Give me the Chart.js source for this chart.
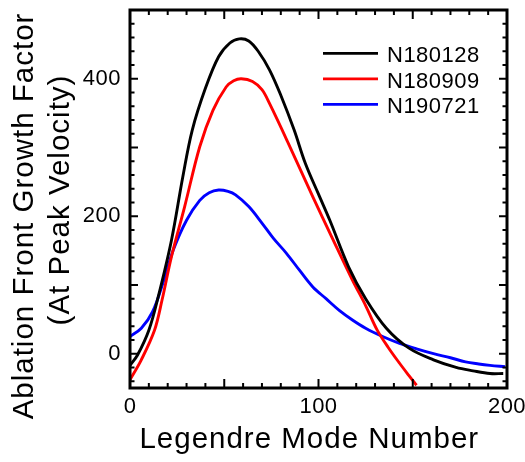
<!DOCTYPE html>
<html>
<head>
<meta charset="utf-8">
<script src="https://cdn.jsdelivr.net/npm/chart.js@4/dist/chart.umd.min.js"></script>
<style>
html,body{margin:0;padding:0;background:#ffffff;}
#wrap{width:525px;height:462px;}
canvas{display:block;}
</style>
</head>
<body>
<div id="wrap"><canvas id="c" width="525" height="462"></canvas></div>
<script>
// ---- data ----
const seriesNames = ['N180128', 'N180909', 'N190721'];
const seriesColors = ['#000000', '#ff0000', '#0000ff'];

const n180128X = [0, 4, 10, 15, 22, 28, 33, 40, 47, 53, 58, 63, 68, 74, 80, 87, 93, 100, 106, 116, 125, 136, 148, 161, 173, 182, 191, 198];
const n180128Y = [-17, -2, 34, 83, 165, 257, 325, 386, 432, 452, 458, 455, 440, 413, 376, 326, 277, 232, 194, 126, 80, 37, 8, -9, -20, -25, -29, -29];

const n180909X = [0, 6, 13, 17, 22, 29, 37, 44, 51, 55, 59, 65, 70, 74, 84, 97, 107, 118, 125, 131, 137, 143, 148, 152];
const n180909Y = [-38, -9, 34, 78, 141, 214, 301, 354, 388, 397, 400, 396, 384, 364, 306, 228, 170, 107, 70, 35, 9, -14, -32, -46];

const n190721X = [0, 6, 12, 18, 23, 30, 37, 42, 47, 52, 56, 63, 70, 76, 83, 90, 97, 104, 111, 118, 125, 134, 143, 152, 161, 170, 178, 185, 191, 199];
const n190721Y = [25, 37, 61, 107, 151, 194, 223, 234, 238, 236, 231, 214, 190, 168, 146, 121, 97, 80, 63, 49, 37, 25, 15, 7, 0, -6, -12, -15, -17, -19];

const xTickLabels = [0, 100, 200];
const yTickLabels = [0, 200, 400];
const xRange = [0, 200];
const yRange = [-50, 500];
const xMinorStep = 10, xMajorStep = 50;
const yMinorStep = 20, yMajorStep = 100;

const xTitleText = 'Legendre Mode Number';
const yTitleLines = ['Ablation Front Growth Factor', '(At Peak Velocity)'];

// ---- build ----
const FONT = '"Liberation Sans", Arial, Helvetica, sans-serif';
function pts(xs, ys) { return xs.map((x, i) => ({ x: x, y: ys[i] })); }
const seriesX = [n180128X, n180909X, n190721X];
const seriesY = [n180128Y, n180909Y, n190721Y];

const datasets = seriesNames.map((name, i) => ({
  label: name,
  data: pts(seriesX[i], seriesY[i]),
  borderColor: seriesColors[i],
  backgroundColor: seriesColors[i],
  borderWidth: 2.9,
  pointRadius: 0,
  fill: false,
  tension: 0.35
}));

const spacingPlugin = {
  id: 'spacing',
  beforeLayout(chart) { chart.ctx.letterSpacing = '1px'; },
  beforeDraw(chart) { chart.ctx.letterSpacing = '1px'; },
  afterDatasetsDraw(chart) { chart.ctx.letterSpacing = '0.5px'; }
};

const frameTicks = {
  id: 'frameTicks',
  afterDatasetsDraw(chart) {
    const { ctx, chartArea: a, scales: { x, y } } = chart;
    ctx.save();
    ctx.strokeStyle = '#000';
    ctx.lineWidth = 2;
    ctx.beginPath();
    for (let v = x.min; v <= x.max + 1e-9; v += xMinorStep) {
      const px = x.getPixelForValue(v);
      const len = (Math.abs(v % xMajorStep) < 1e-9) ? 9 : 5;
      ctx.moveTo(px, a.bottom); ctx.lineTo(px, a.bottom - len);
      ctx.moveTo(px, a.top); ctx.lineTo(px, a.top + len);
    }
    for (let v = Math.ceil(y.min / yMinorStep) * yMinorStep; v <= y.max + 1e-9; v += yMinorStep) {
      const py = y.getPixelForValue(v);
      const len = (Math.abs(v % yMajorStep) < 1e-9) ? 8 : 4.5;
      ctx.moveTo(a.left, py); ctx.lineTo(a.left + len, py);
      ctx.moveTo(a.right, py); ctx.lineTo(a.right - len, py);
    }
    ctx.stroke();
    ctx.lineWidth = 3;
    ctx.strokeRect(a.left, a.top, a.right - a.left, a.bottom - a.top);
    ctx.restore();
  }
};

const legendAndYTitle = {
  id: 'legendAndYTitle',
  afterDraw(chart) {
    const { ctx, chartArea: a } = chart;
    ctx.save();
    // legend
    ctx.font = '22px ' + FONT;
    ctx.letterSpacing = '0.5px';
    ctx.textAlign = 'left';
    ctx.textBaseline = 'alphabetic';
    chart.data.datasets.forEach((ds, i) => {
      const ly = a.top + 43.3 + i * 25.5;
      ctx.strokeStyle = ds.borderColor;
      ctx.lineWidth = 2.8;
      ctx.beginPath();
      ctx.moveTo(a.right - 184, ly);
      ctx.lineTo(a.right - 129, ly);
      ctx.stroke();
      ctx.fillStyle = '#000';
      ctx.fillText(ds.label, a.right - 120, ly + 8.9);
    });
    // y axis title (two rotated lines)
    ctx.font = '29.5px ' + FONT;
    ctx.letterSpacing = '1px';
    ctx.textAlign = 'center';
    ctx.fillStyle = '#000';
    const cy = (a.top + a.bottom) / 2;
    const lines = [{ t: yTitleLines[0], x: 33, y: cy + 17 }, { t: yTitleLines[1], x: 69, y: cy + 1 }];
    lines.forEach(l => {
      ctx.save();
      ctx.translate(l.x, l.y);
      ctx.rotate(-Math.PI / 2);
      ctx.fillText(l.t, 0, 0);
      ctx.restore();
    });
    ctx.restore();
  }
};

new Chart(document.getElementById('c'), {
  type: 'line',
  data: { datasets: datasets },
  plugins: [spacingPlugin, frameTicks, legendAndYTitle],
  options: {
    responsive: false,
    animation: false,
    devicePixelRatio: 1,
    layout: { padding: { top: 10, right: 18, left: 0, bottom: 0 }, autoPadding: false },
    plugins: { legend: { display: false }, tooltip: { enabled: false } },
    scales: {
      x: {
        type: 'linear',
        min: xRange[0], max: xRange[1],
        grid: { display: false, drawTicks: false },
        border: { display: false },
        afterBuildTicks: s => { s.ticks = xTickLabels.map(v => ({ value: v })); },
        afterFit: s => { s.height = 74; s.paddingLeft = 0; s.paddingRight = 0; },
        ticks: { z: 1, color: '#000', padding: 6, maxRotation: 0, autoSkip: false, font: { family: FONT, size: 22 } },
        title: { display: true, text: xTitleText + '  ', color: '#000', font: { family: FONT, size: 29.5, lineHeight: 1.2 }, padding: { top: 0, bottom: 4.5 } }
      },
      y: {
        type: 'linear',
        min: yRange[0], max: yRange[1],
        grid: { display: false, drawTicks: false },
        border: { display: false },
        afterBuildTicks: s => { s.ticks = yTickLabels.map(v => ({ value: v })); },
        afterFit: s => { s.width = 130; s.paddingTop = 0; s.paddingBottom = 0; },
        ticks: { z: 1, color: '#000', padding: 9, autoSkip: false, font: { family: FONT, size: 22 } }
      }
    }
  }
});
</script>
</body>
</html>
